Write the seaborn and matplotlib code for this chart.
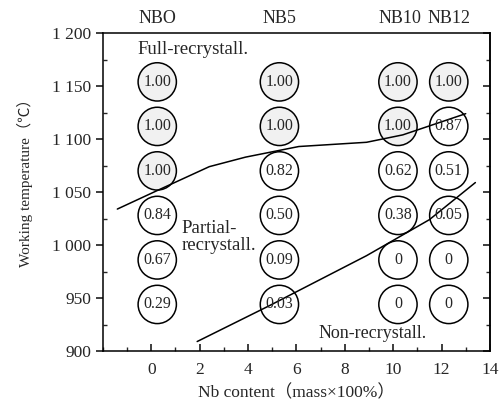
import numpy as np
import pandas as pd
import matplotlib
matplotlib.use("Agg")
import matplotlib.pyplot as plt
from matplotlib.ticker import MultipleLocator, FuncFormatter
import seaborn as sns

# steel grades (column labels) and their Nb content positions
grades = ["NBO", "NB5", "NB10", "NB12"]
grade_x = [0.25, 5.3, 10.2, 12.3]

# working temperatures of the test rows
row_temps = [1154, 1112, 1070, 1028, 986, 944]

# recrystallized fraction, one list per grade (top row first)
frac_nbo = ["1.00", "1.00", "1.00", "0.84", "0.67", "0.29"]
frac_nb5 = ["1.00", "1.00", "0.82", "0.50", "0.09", "0.03"]
frac_nb10 = ["1.00", "1.00", "0.62", "0.38", "0", "0"]
frac_nb12 = ["1.00", "0.87", "0.51", "0.05", "0", "0"]

# boundary curves
upper_x = [-1.4, 0.3, 2.4, 3.9, 6.1, 8.9, 10.4, 13.0]
upper_t = [1034, 1052, 1074, 1083, 1093, 1097, 1104, 1124]
lower_x = [1.9, 4.9, 8.9, 11.5, 13.4]
lower_t = [909, 943, 990, 1024, 1059]

sns.set_theme(style="ticks")
plt.rcParams['font.family'] = ['Liberation Serif', 'Noto Sans CJK SC']

rows = []
for gx, fr in zip(grade_x, [frac_nbo, frac_nb5, frac_nb10, frac_nb12]):
    for t, f in zip(row_temps, fr):
        rows.append({"x": gx, "t": t, "frac": f, "full": f == "1.00"})
df = pd.DataFrame(rows)

fig = plt.figure(figsize=(5.04, 4.04), dpi=100)
ax = fig.add_axes([0.204, 0.131, 0.768, 0.787])

# circles, the fully recrystallized ones lightly shaded
sns.scatterplot(data=df, x="x", y="t", hue="full", palette={True: "#f1f1f1", False: "white"},
                s=760, edgecolor="black", linewidth=1.1, legend=False, ax=ax, zorder=2)
for _, r in df.iterrows():
    ax.text(r["x"], r["t"], r["frac"], ha="center", va="center", fontsize=11.5, zorder=4)

sns.lineplot(x=upper_x, y=upper_t, sort=False, color="black", linewidth=1.1, ax=ax, zorder=3)
sns.lineplot(x=lower_x, y=lower_t, sort=False, color="black", linewidth=1.1, ax=ax, zorder=3)

ax.text(-0.55, 1185, "Full-recrystall.", fontsize=13.5, ha="left", va="center")
ax.text(1.25, 1008, "Partial-\nrecrystall.", fontsize=13.5, ha="left", va="center", linespacing=1.0)
ax.text(6.9, 917, "Non-recrystall.", fontsize=13, ha="left", va="center")

for g, gx in zip(grades, grade_x):
    ax.text(gx + (0.1 if g == "NB10" else 0), 1206, g, fontsize=13, ha="center", va="bottom")

ax.set_xlim(-2, 14)
ax.set_ylim(900, 1200)
ax.xaxis.set_major_locator(MultipleLocator(2))
ax.xaxis.set_minor_locator(MultipleLocator(1))
ax.yaxis.set_major_locator(MultipleLocator(50))
ax.yaxis.set_minor_locator(MultipleLocator(25))
ax.yaxis.set_major_formatter(FuncFormatter(lambda v, p: f"{int(v):,}".replace(",", " ")))
ax.set_xticks([0, 2, 4, 6, 8, 10, 12, 14])

ax.tick_params(axis="x", which="both", direction="in", top=False, labelsize=12.5, pad=8)
ax.tick_params(axis="x", which="major", length=5)
ax.tick_params(axis="x", which="minor", length=3)
ax.tick_params(axis="y", which="major", direction="out", length=5, labelsize=12.5)
ax.tick_params(axis="y", which="minor", direction="in", length=3)

# inward ticks on the right side
right = ax.secondary_yaxis("right")
right.yaxis.set_major_locator(MultipleLocator(50))
right.yaxis.set_minor_locator(MultipleLocator(25))
right.tick_params(which="major", direction="in", length=5, labelright=False)
right.tick_params(which="minor", direction="in", length=3)

for s in list(ax.spines.values()) + [right.spines["right"]]:
    s.set_linewidth(1.1)
    s.set_color("black")

ax.set_xlabel("Nb content（mass×100%）", fontsize=12.5, labelpad=5)
ax.set_ylabel("Working temperature（℃）", fontsize=11)
ax.yaxis.set_label_coords(-0.18, 0.54)

fig.savefig("out.png", dpi=100)
